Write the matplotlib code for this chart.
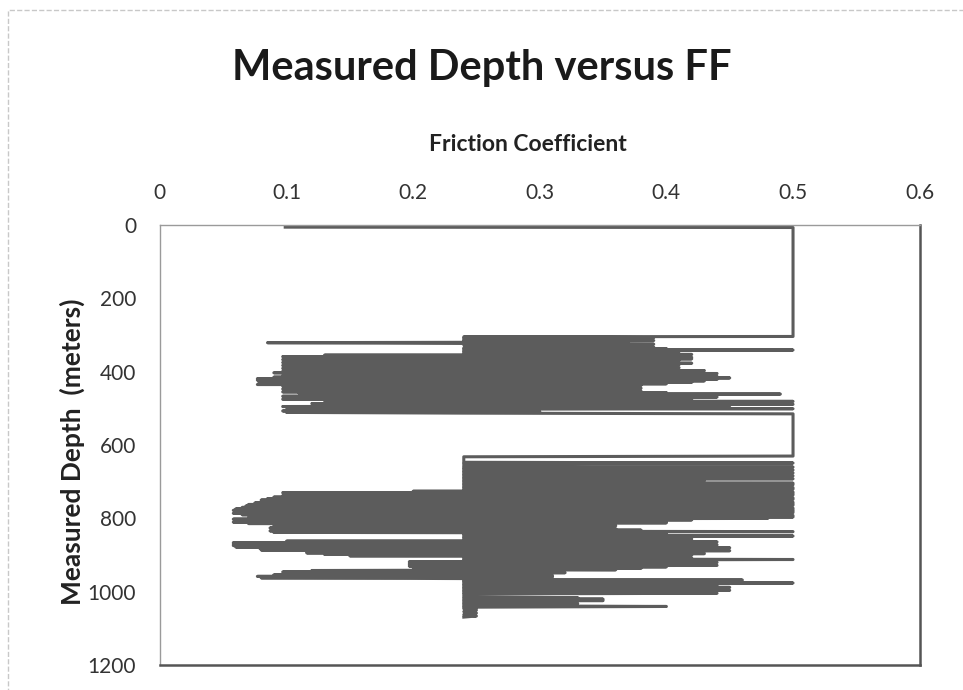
import matplotlib.pyplot as plt
import numpy as np
from matplotlib.patches import Rectangle

plt.rcParams['font.family'] = ['Lato', 'DejaVu Sans']

# friction factor (FF), in the order the line is drawn
depth_top = [6, 7, 304, 305]
ff_top = [0.099, 0.50, 0.50, 0.24]

depth_upper = [307, 309, 311, 313, 315, 317, 319, 321, 323, 325, 327, 329, 331, 333,
               335, 337, 339, 341, 343, 345, 347, 349, 351, 353, 355, 357, 359, 361,
               363, 365, 367, 369, 371, 373, 375, 377, 379, 381, 383, 385, 387, 389,
               391, 393, 395, 397, 399, 401, 403, 405, 407, 409, 411, 413, 415, 417,
               419, 421, 423, 425, 427, 429, 431, 433, 435, 437, 439, 441, 443, 445,
               447, 449, 451, 453, 455, 457, 459, 461, 463, 465, 467, 469, 471, 473,
               475, 477, 479, 481, 483, 485, 487, 489, 491, 493, 495, 497, 499, 501,
               503, 505, 507, 509, 511, 513, 515]
ff_upper = [0.39, 0.24, 0.38, 0.24, 0.39, 0.24, 0.37, 0.085, 0.24, 0.39, 0.24, 0.38,
            0.25, 0.39, 0.24, 0.40, 0.24, 0.50, 0.24, 0.41, 0.24, 0.40, 0.24, 0.42,
            0.13, 0.41, 0.097, 0.42, 0.10, 0.42, 0.097, 0.41, 0.11, 0.40, 0.097, 0.42,
            0.10, 0.41, 0.097, 0.39, 0.11, 0.41, 0.097, 0.40, 0.10, 0.43, 0.097, 0.42,
            0.09, 0.44, 0.10, 0.43, 0.097, 0.44, 0.09, 0.45, 0.077, 0.44, 0.077, 0.43,
            0.078, 0.42, 0.08, 0.40, 0.077, 0.38, 0.097, 0.37, 0.10, 0.38, 0.097, 0.37,
            0.12, 0.38, 0.097, 0.40, 0.11, 0.49, 0.14, 0.41, 0.097, 0.44, 0.12, 0.41,
            0.097, 0.42, 0.13, 0.50, 0.15, 0.43, 0.12, 0.50, 0.14, 0.41, 0.097, 0.45,
            0.12, 0.50, 0.10, 0.24, 0.097, 0.30, 0.10, 0.24, 0.50]

depth_gap = [630, 632, 647]
ff_gap = [0.50, 0.24, 0.24]

depth_lower = [649, 651, 658, 660, 662, 664, 666, 668, 670, 672, 674, 676, 678, 680,
               682, 684, 686, 688, 690, 692, 694, 696, 698, 700, 702, 704, 706, 708,
               710, 712, 714, 716, 718, 720, 722, 724, 726, 728, 730, 732, 734, 736,
               738, 740, 742, 744, 746, 748, 750, 752, 754, 756, 758, 760, 762, 764,
               766, 768, 770, 772, 774, 776, 778, 780, 782, 784, 786, 788, 790, 792,
               794, 796, 798, 800, 802, 804, 806, 808, 810, 812, 814, 816, 818, 820,
               822, 824, 826, 828, 830, 832, 834, 836, 838, 840, 842, 844, 846, 848,
               850, 852, 854, 856, 858, 860, 862, 864, 866, 868, 870, 872, 874, 876,
               878, 880, 882, 884, 886, 888, 890, 892, 894, 896, 898, 900, 902, 904,
               906, 908, 910, 912, 914, 916, 918, 920, 922, 924, 926, 928, 930, 932,
               934, 936, 938, 940, 942, 944, 946, 948, 950, 952, 954, 956, 958, 960,
               962, 964, 966, 968, 970, 972, 974, 976, 978, 980, 982, 984, 986, 988,
               990, 992, 994, 996, 998, 1000, 1002, 1004, 1006, 1014, 1016, 1018, 1020,
               1022, 1024, 1026, 1028, 1030, 1032, 1034, 1036, 1038, 1040, 1042, 1044,
               1046, 1050, 1054, 1058, 1062, 1066, 1069]
ff_lower = [0.50, 0.24, 0.24, 0.50, 0.24, 0.42, 0.24, 0.50, 0.24, 0.44, 0.24, 0.50,
            0.24, 0.48, 0.24, 0.50, 0.24, 0.47, 0.24, 0.50, 0.24, 0.43, 0.24, 0.33,
            0.24, 0.50, 0.24, 0.50, 0.24, 0.46, 0.24, 0.50, 0.24, 0.50, 0.24, 0.49,
            0.20, 0.50, 0.097, 0.50, 0.10, 0.50, 0.097, 0.48, 0.09, 0.50, 0.085, 0.50,
            0.08, 0.49, 0.08, 0.50, 0.075, 0.50, 0.07, 0.50, 0.068, 0.49, 0.065, 0.50,
            0.06, 0.50, 0.058, 0.50, 0.06, 0.50, 0.058, 0.49, 0.065, 0.50, 0.076, 0.50,
            0.07, 0.48, 0.058, 0.42, 0.06, 0.40, 0.058, 0.40, 0.07, 0.35, 0.09, 0.36,
            0.10, 0.35, 0.087, 0.36, 0.095, 0.38, 0.087, 0.50, 0.09, 0.40, 0.24, 0.36,
            0.24, 0.50, 0.24, 0.38, 0.24, 0.42, 0.24, 0.40, 0.10, 0.44, 0.058, 0.42,
            0.058, 0.44, 0.058, 0.42, 0.06, 0.45, 0.079, 0.44, 0.08, 0.45, 0.116, 0.42,
            0.116, 0.43, 0.13, 0.42, 0.15, 0.41, 0.24, 0.42, 0.24, 0.50, 0.24, 0.42,
            0.197, 0.44, 0.197, 0.43, 0.197, 0.44, 0.197, 0.40, 0.20, 0.38, 0.24, 0.36,
            0.12, 0.30, 0.097, 0.32, 0.10, 0.30, 0.09, 0.31, 0.077, 0.31, 0.08, 0.24,
            0.24, 0.46, 0.24, 0.44, 0.24, 0.50, 0.24, 0.42, 0.24, 0.44, 0.24, 0.45,
            0.24, 0.44, 0.24, 0.45, 0.24, 0.40, 0.24, 0.44, 0.24, 0.24, 0.33, 0.24,
            0.35, 0.24, 0.35, 0.24, 0.30, 0.24, 0.33, 0.24, 0.30, 0.24, 0.40, 0.24,
            0.25, 0.24, 0.25, 0.24, 0.25, 0.24, 0.25, 0.24]

depth = depth_top + depth_upper + depth_gap + depth_lower
ff = ff_top + ff_upper + ff_gap + ff_lower

fig = plt.figure(figsize=(9.63, 6.9), dpi=100)
ax = fig.add_axes([0.166, 0.036, 0.789, 0.638])

ax.plot(ff, depth, color='#5c5c5c', lw=2.2, solid_joinstyle='round')

ax.set_xlim(0, 0.6)
ax.set_ylim(1200, 0)
ax.set_xticks(np.arange(0, 0.61, 0.1))
ax.set_xticklabels(['0', '0.1', '0.2', '0.3', '0.4', '0.5', '0.6'])
ax.set_yticks(range(0, 1201, 200))
ax.xaxis.tick_top()
ax.tick_params(axis='both', length=0, labelsize=15, labelcolor='#333333')
ax.tick_params(axis='x', pad=16)
ax.tick_params(axis='y', pad=17)

for side in ['left', 'top']:
    ax.spines[side].set_color('#9a9a9a')
    ax.spines[side].set_linewidth(1.0)
for side in ['right', 'bottom']:
    ax.spines[side].set_color('#555555')
    ax.spines[side].set_linewidth(1.8)

fig.text(0.50, 0.901, 'Measured Depth versus FF', ha='center', va='center',
         fontsize=30, fontweight='bold', color='#1a1a1a')
fig.text(0.548, 0.79, 'Friction Coefficient', ha='center', va='center',
         fontsize=16.5, fontweight='bold', color='#222222')
fig.text(0.075, 0.345, 'Measured Depth  (meters)', ha='center', va='center',
         rotation=90, fontsize=19, fontweight='bold', color='#222222')

# faint outline of the chart area, as in the scanned page
fig.add_artist(Rectangle((0.008, -0.05), 1.2, 1.035, fill=False, ec='#c8c8c8',
                         lw=1.0, ls='--', transform=fig.transFigure))

fig.savefig('out.png', dpi=100)
